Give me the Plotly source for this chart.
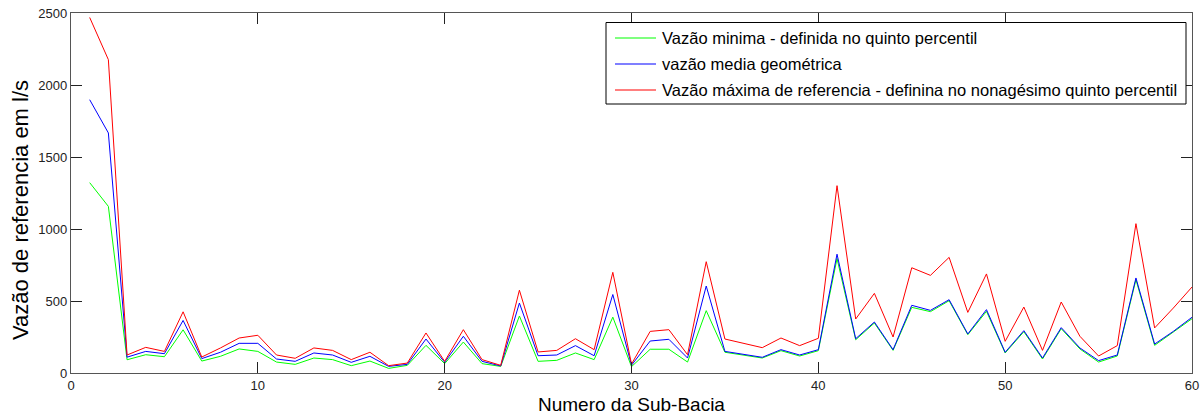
import plotly.graph_objects as go

# Sub-basin numbers
sub_bacia = list(range(1, 61))

# Reference flows per sub-basin (l/s)
vazao_minima = [1322, 1157, 92, 127, 113, 300, 83, 116, 167, 150,
                76, 60, 104, 93, 51, 83, 32, 53, 192, 65,
                215, 65, 46, 396, 81, 88, 139, 93, 388, 44,
                165, 165, 76, 433, 144, 123, 104, 155, 118, 155,
                795, 231, 347, 157, 456, 426, 502, 266, 428, 139,
                287, 97, 308, 167, 76, 118, 648, 192, 282, 377]

vazao_media = [1898, 1667, 110, 150, 134, 365, 100, 144, 206, 206,
               97, 81, 139, 125, 74, 116, 46, 60, 236, 74,
               255, 81, 49, 486, 120, 125, 190, 120, 545, 54,
               222, 234, 104, 604, 150, 127, 109, 162, 125, 162,
               825, 238, 354, 162, 470, 435, 509, 271, 440, 144,
               294, 104, 315, 174, 86, 125, 660, 201, 289, 387]

vazao_maxima = [2469, 2176, 125, 178, 150, 425, 111, 174, 243, 262,
                125, 102, 174, 157, 93, 144, 51, 69, 278, 81,
                301, 93, 53, 575, 146, 157, 238, 162, 699, 62,
                289, 301, 127, 773, 236, 206, 176, 243, 190, 241,
                1301, 375, 553, 250, 731, 678, 803, 421, 688, 220,
                458, 157, 493, 255, 118, 190, 1037, 313, 451, 597]

series = [
    ("Vazão minima - definida no quinto percentil", vazao_minima, "#00ff00"),
    ("vazão media geométrica", vazao_media, "#0000ff"),
    ("Vazão máxima de referencia - definina no nonagésimo quinto percentil", vazao_maxima, "#ff0000"),
]

W, H = 1202, 416
M_L, M_R, M_T, M_B = 71, 10, 13, 43
PLOT_W = W - M_L - M_R
PLOT_H = H - M_T - M_B


def px_x(px):
    """Page pixel column -> paper x."""
    return (px - M_L) / PLOT_W


def px_y(py):
    """Page pixel row -> paper y."""
    return (H - M_B - py) / PLOT_H


fig = go.Figure()
for name, vals, color in series:
    fig.add_trace(go.Scatter(
        x=sub_bacia, y=vals, mode="lines", name=name,
        line=dict(color=color, width=1), showlegend=False,
    ))

font_family = "Liberation Sans, Arial, sans-serif"
axis_common = dict(
    showline=True, linecolor="#555555", linewidth=1.3, mirror="allticks",
    ticks="inside", ticklen=11, tickcolor="#222222", tickwidth=1,
    showgrid=False, zeroline=False, automargin=False,
    tickfont=dict(family=font_family, size=13, color="#222222"),
)

fig.update_layout(
    width=W, height=H,
    margin=dict(l=M_L, r=M_R, t=M_T, b=M_B, autoexpand=False),
    paper_bgcolor="white", plot_bgcolor="white",
    font=dict(family=font_family, color="#000000"),
    xaxis=dict(range=[0, 60], dtick=10, tick0=0, **axis_common),
    yaxis=dict(range=[0, 2500], dtick=500, tick0=0, **axis_common),
    showlegend=False,
)

# Boxed legend in the upper right corner of the axes
box_left, box_top, box_right, box_bottom = 606, 22.5, 1186, 104
row_first, row_step = 38, 26
fig.add_shape(type="rect", xref="paper", yref="paper",
              x0=px_x(box_left), x1=px_x(box_right),
              y0=px_y(box_bottom), y1=px_y(box_top),
              line=dict(color="#000000", width=1), fillcolor="white", layer="above")
for k, (name, _, color) in enumerate(series):
    row = row_first + k * row_step
    fig.add_shape(type="line", xref="paper", yref="paper",
                  x0=px_x(615), x1=px_x(656), y0=px_y(row), y1=px_y(row),
                  line=dict(color=color, width=1.2), layer="above")
    fig.add_annotation(text=name, xref="paper", yref="paper",
                       x=px_x(660), y=px_y(row), xanchor="left", yanchor="middle",
                       showarrow=False,
                       font=dict(family=font_family, size=16.5, color="#000000"))

# Axis titles
fig.add_annotation(
    text="Numero da Sub-Bacia",
    xref="paper", yref="paper", x=0.5, y=px_y(405),
    xanchor="center", yanchor="middle", showarrow=False,
    font=dict(family=font_family, size=19, color="#000000"),
)
fig.add_annotation(
    text="Vazão de referencia em l/s", textangle=-90,
    xref="paper", yref="paper", x=px_x(20), y=px_y(210),
    xanchor="center", yanchor="middle", showarrow=False,
    font=dict(family=font_family, size=22, color="#000000"),
)

fig.write_html("out.html")
